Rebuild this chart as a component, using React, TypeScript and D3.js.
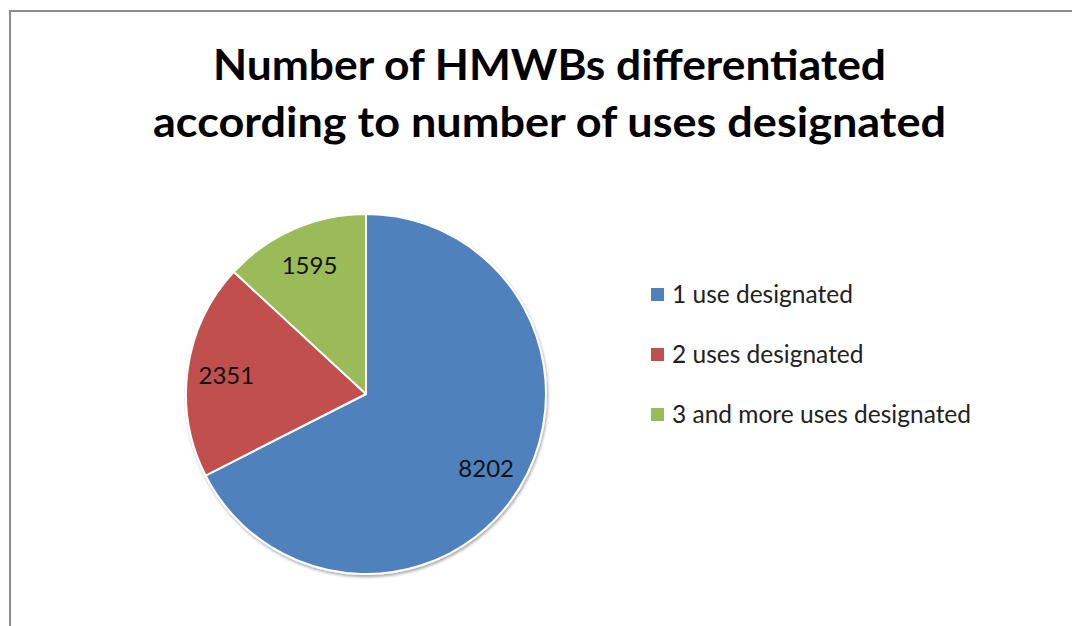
import React from "react";
import * as d3 from "d3";

const categories = ["1 use designated", "2 uses designated", "3 and more uses designated"];
const values = [8202, 2351, 1595];
const colors = ["#4F81BD", "#C0504D", "#9BBB59"];
const titleLines = ["Number of HMWBs differentiated", "according to number of uses designated"];

const W = 1072;
const H = 626;
const cx = 366;
const cy = 394;
const R = 180;

export default function App() {
  const pie = d3.pie<number>().sort(null).value((d) => d)(values);
  const arc = d3.arc<d3.PieArcDatum<number>>().innerRadius(0).outerRadius(R);
  const labelArc = d3.arc<d3.PieArcDatum<number>>().innerRadius(141).outerRadius(141);
  const legendY = d3.scalePoint<string>().domain(categories).range([294, 414]);
  const font = "Lato, 'Open Sans', sans-serif";
  const titleWidths = [673, 793];

  return (
    <svg
      width={W}
      height={H}
      style={{ position: "absolute", left: 0, top: 0, display: "block", background: "#fff" }}
    >
      <defs>
        <filter id="sh" x="-10%" y="-10%" width="120%" height="120%">
          <feGaussianBlur in="SourceAlpha" stdDeviation="1.5" />
          <feOffset dx="1" dy="1.5" result="b" />
          <feComponentTransfer>
            <feFuncA type="linear" slope="0.35" />
          </feComponentTransfer>
          <feMerge>
            <feMergeNode />
            <feMergeNode in="SourceGraphic" />
          </feMerge>
        </filter>
      </defs>
      <rect x={10} y={11} width={W + 20} height={H + 20} fill="#fff" stroke="#8c8c8c" strokeWidth={2} />
      {titleLines.map((t, i) => (
        <text
          key={i}
          x={549.5}
          y={80 + i * 57}
          textAnchor="middle"
          fontFamily={font}
          fontWeight={700}
          fontSize={42}
          fill="#000"
          textLength={titleWidths[i]}
          lengthAdjust="spacingAndGlyphs"
        >
          {t}
        </text>
      ))}
      <g transform={`translate(${cx},${cy})`} filter="url(#sh)">
        {pie.map((p, i) => (
          <path key={i} d={arc(p) || ""} fill={colors[i]} stroke="#fff" strokeWidth={2} strokeLinejoin="round" />
        ))}
      </g>
      <g transform={`translate(${cx},${cy})`}>
        {pie.map((p, i) => {
          const [lx, ly] = labelArc.centroid(p);
          return (
            <text
              key={i}
              x={lx}
              y={ly + 9}
              textAnchor="middle"
              fontFamily={font}
              fontSize={24}
              fill="#111"
            >
              {values[i]}
            </text>
          );
        })}
      </g>
      {categories.map((c) => {
        const y = legendY(c) as number;
        const i = categories.indexOf(c);
        return (
          <g key={c}>
            <rect x={651} y={y - 6} width={13} height={13} fill={colors[i]} />
            <text x={672} y={y + 9} fontFamily={font} fontSize={24.5} fill="#222">
              {c}
            </text>
          </g>
        );
      })}
    </svg>
  );
}
